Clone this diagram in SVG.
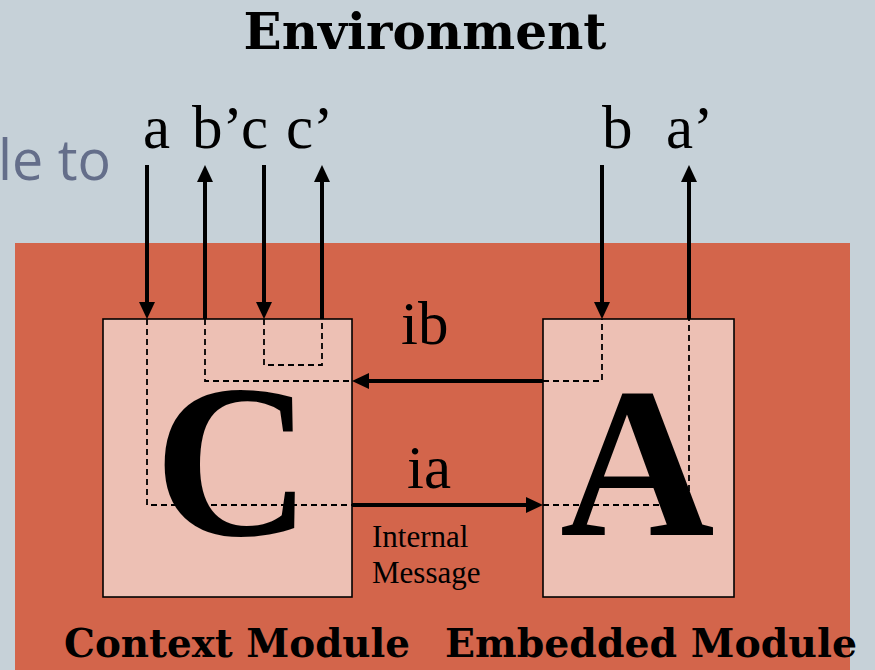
<svg xmlns="http://www.w3.org/2000/svg" width="875" height="670" viewBox="0 0 875 670">
<style>
.serif{font-family:"Liberation Serif","Times New Roman",serif;fill:#000}
.bold{font-family:"DejaVu Serif",serif;font-weight:bold;fill:#000}
.lbl{font-size:61px}
.box{fill:#EDC0B4;stroke:#000;stroke-width:1.6}
.dash{fill:none;stroke:#000;stroke-width:1.8;stroke-dasharray:6 4}
.arr{stroke:#000;stroke-width:4;fill:none;marker-end:url(#ah)}
</style>
<defs>
<marker id="ah" viewBox="0 0 17 16" refX="7" refY="8" markerWidth="17" markerHeight="16" markerUnits="userSpaceOnUse" orient="auto">
<path d="M0,0 L17,8 L0,16 Z" fill="#000"/>
</marker>
</defs>
<rect x="0" y="0" width="875" height="670" fill="#C6D1D8"/>
<text x="-2" y="180" font-family="'Open Sans','Liberation Sans',sans-serif" font-size="56" fill="#646E8A" textLength="113" lengthAdjust="spacingAndGlyphs">le to</text>
<text x="425" y="49" class="bold" font-size="50" text-anchor="middle" textLength="363" lengthAdjust="spacingAndGlyphs">Environment</text>
<rect x="15" y="243" width="835" height="427" fill="#D3654B"/>
<g id="context-module">
<rect class="box" x="103" y="319" width="249" height="278"/>
<text x="154" y="535" class="serif" font-weight="bold" font-size="218">C</text>
</g>
<g id="embedded-module">
<rect class="box" x="543" y="319" width="191" height="278"/>
<text x="560" y="535" class="serif" font-weight="bold" font-size="214">A</text>
</g>
<g id="connectors">
<path class="dash" d="M147,319 V505 H352"/>
<path class="dash" d="M205,319 V381 H352"/>
<path class="dash" d="M264,319 V365 H322 V319"/>
<path class="dash" d="M543,381 H602 V319"/>
<path class="dash" d="M543,505 H689 V319"/>
<line class="arr" x1="147" y1="165" x2="147" y2="309"/>
<line class="arr" x1="205" y1="319" x2="205" y2="175"/>
<line class="arr" x1="264" y1="165" x2="264" y2="309"/>
<line class="arr" x1="322" y1="319" x2="322" y2="175"/>
<line class="arr" x1="602" y1="165" x2="602" y2="309"/>
<line class="arr" x1="689" y1="319" x2="689" y2="175"/>
<line class="arr" x1="543" y1="381" x2="362" y2="381"/>
<line class="arr" x1="352" y1="505" x2="533" y2="505"/>
</g>
<g id="labels">
<text class="serif lbl" y="148"><tspan x="143">a</tspan><tspan x="192">b’</tspan><tspan x="241">c</tspan><tspan x="286">c’</tspan></text>
<text class="serif lbl" y="148"><tspan x="602">b</tspan><tspan x="666">a’</tspan></text>
<text class="serif lbl" x="401" y="344">ib</text>
<text class="serif lbl" x="407" y="488">ia</text>
<text class="serif" font-size="31" x="372" y="547">Internal</text>
<text class="serif" font-size="31" x="372" y="583">Message</text>
</g>
<text x="64" y="657" class="bold" font-size="39" textLength="346" lengthAdjust="spacingAndGlyphs">Context Module</text>
<text x="445" y="657" class="bold" font-size="39" textLength="412" lengthAdjust="spacingAndGlyphs">Embedded Module</text>
</svg>
